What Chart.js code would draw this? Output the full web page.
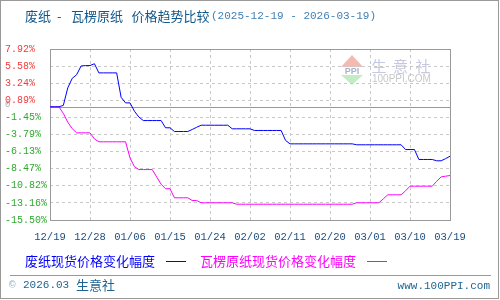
<!DOCTYPE html>
<html>
<head>
<meta charset="utf-8">
<script src="https://cdn.jsdelivr.net/npm/chart.js@4"></script>
<style>
  body { margin: 0; background: #fff; }
  canvas { display: block; }
</style>
</head>
<body>
<canvas id="chart" width="500" height="300"></canvas>
<script>
// daily change (%) since 2025-12-19, one value per day up to 2026-03-19
const wastePaper = [
  0, 0, 0, 0.2, 2.6, 3.9, 4.4, 5.6, 5.65, 5.65,
  5.9, 4.65, 4.65, 4.65, 4.65, 4.65, 1.3, 0.54, 0.54, -0.6,
  -1.4, -1.88, -1.88, -1.88, -1.88, -1.88, -2.87, -2.87, -3.38, -3.38,
  -3.38, -3.38, -3.1, -2.8, -2.52, -2.52, -2.52, -2.52, -2.52, -2.52,
  -2.52, -3.01, -3.01, -3.01, -3.01, -3.01, -3.24, -3.24, -3.24, -3.24,
  -3.24, -3.24, -3.24, -4.6, -5.07, -5.07, -5.07, -5.07, -5.07, -5.07,
  -5.07, -5.07, -5.07, -5.07, -5.07, -5.07, -5.07, -5.07, -5.07, -5.2,
  -5.2, -5.2, -5.2, -5.2, -5.2, -5.2, -5.2, -5.2, -5.2, -5.2,
  -5.85, -5.85, -5.85, -7.21, -7.21, -7.21, -7.21, -7.39, -7.39, -7.1,
  -6.77
];
const corrugated = [
  0, 0, 0, -0.9, -2.1, -3.0, -3.56, -3.56, -3.56, -3.56,
  -4.4, -4.79, -4.79, -4.79, -4.79, -4.79, -4.79, -4.79, -7.0, -8.2,
  -8.59, -8.59, -8.59, -8.59, -9.6, -10.6, -11.22, -11.22, -12.46, -12.46,
  -12.46, -12.46, -12.83, -12.83, -13.14, -13.14, -13.14, -13.14, -13.14, -13.14,
  -13.14, -13.14, -13.34, -13.34, -13.34, -13.34, -13.34, -13.34, -13.34, -13.34,
  -13.34, -13.34, -13.34, -13.34, -13.34, -13.34, -13.34, -13.34, -13.34, -13.34,
  -13.34, -13.34, -13.34, -13.34, -13.34, -13.34, -13.34, -13.34, -13.34, -13.14,
  -13.14, -13.14, -13.14, -13.14, -13.14, -12.6, -12.05, -12.05, -12.05, -12.05,
  -11.5, -10.87, -10.87, -10.87, -10.87, -10.87, -10.87, -10.2, -9.6, -9.5,
  -9.41
];
const xTickLabels = ['12/19', '12/28', '01/06', '01/15', '01/24', '02/02', '02/11', '02/20', '03/01', '03/10', '03/19'];
const yTicks = [7.92, 5.58, 3.24, 0.89, -1.45, -3.79, -6.13, -8.47, -10.82, -13.16, -15.50];
const seriesNames = ['废纸现货价格变化幅度', '瓦楞原纸现货价格变化幅度'];

const CJK = '"Noto Sans CJK SC", sans-serif';
const MONO = '"Liberation Mono", "DejaVu Sans Mono", monospace';

const toPoints = arr => arr.map((v, i) => ({x: i, y: v}));

const decor = {
  id: 'decor',
  beforeDraw(chart) {
    const c = chart.ctx;
    c.save();
    c.fillStyle = '#fff';
    c.fillRect(0, 0, 500, 300);
    c.strokeStyle = '#999';
    c.lineWidth = 1;
    c.strokeRect(0.5, 0.5, 498, 298);

    // watermark
    c.fillStyle = '#f4bab2';
    c.beginPath(); c.moveTo(352, 55); c.lineTo(363, 67); c.lineTo(341, 67); c.closePath(); c.fill();
    c.fillStyle = '#c4ecc4';
    c.beginPath(); c.moveTo(341, 75); c.lineTo(363, 75); c.lineTo(352, 85); c.closePath(); c.fill();
    c.fillStyle = '#aab2cc';
    c.font = 'bold 9px "Liberation Sans", sans-serif';
    c.textAlign = 'center'; c.textBaseline = 'middle';
    c.fillText('PPI', 352, 71.5);
    c.fillStyle = '#c4c8e0';
    c.font = '15px ' + CJK;
    c.textAlign = 'left';
    c.fillText('生', 371.5, 66);
    c.fillText('意', 393, 66);
    c.fillText('社', 415.5, 66);
    c.fillStyle = '#c8c8c8';
    c.font = '10px "Liberation Sans", sans-serif';
    c.fillText('100PPI.COM', 372, 79.5);
    c.restore();
  },
  beforeDatasetsDraw(chart) {
    const c = chart.ctx, a = chart.chartArea;
    const y0 = Math.round(chart.scales.y.getPixelForValue(0)) + 0.5;
    c.save();
    c.strokeStyle = '#999';
    c.lineWidth = 1;
    c.strokeRect(Math.round(a.left) + 0.5, Math.round(a.top) + 0.5,
      Math.round(a.right - a.left), Math.round(a.bottom - a.top));
    c.beginPath(); c.moveTo(a.left, y0); c.lineTo(a.right, y0); c.stroke();
    c.restore();
  },
  afterDraw(chart) {
    const c = chart.ctx;
    c.save();
    c.textBaseline = 'middle';
    c.textAlign = 'left';

    // title
    c.fillStyle = '#11578a';
    c.font = '13px ' + CJK;
    c.fillText('废纸', 25, 16);
    c.fillText('-', 57, 16);
    c.fillText('瓦楞原纸', 71, 16);
    c.fillText('价格趋势比较', 131.5, 16);
    c.fillStyle = '#3f7fb3';
    c.font = '11px ' + MONO;
    c.fillText('(2025-12-19 - 2026-03-19)', 211, 16);

    // little zero mark
    const y0 = chart.scales.y.getPixelForValue(0);
    c.fillStyle = '#aaa';
    c.font = '9px ' + MONO;
    c.fillText('0', 5, y0 - 2);

    // legend
    const colors = ['#0000ff', '#ff00ff'];
    const lx = [[25, 166], [200, 367]];
    c.font = '13px ' + CJK;
    seriesNames.forEach((name, i) => {
      c.fillStyle = colors[i];
      c.fillText(name, lx[i][0], 261);
      c.strokeStyle = colors[i];
      c.lineWidth = 1;
      c.beginPath(); c.moveTo(lx[i][1], 261.5); c.lineTo(lx[i][1] + 20, 261.5); c.stroke();
    });

    // footer
    c.strokeStyle = '#999';
    c.beginPath(); c.moveTo(10, 275.5); c.lineTo(491, 275.5); c.stroke();
    c.fillStyle = '#8fb0cc';
    c.font = '11px ' + MONO;
    c.fillText('©', 9, 285);
    c.fillStyle = '#1f6492';
    c.fillText('2026.03', 23, 285);
    c.font = '13px ' + CJK;
    c.fillText('生意社', 76, 285);
    c.font = '11px ' + MONO;
    c.textAlign = 'right';
    c.fillText('www.100PPI.com', 490, 286);
    c.restore();
  }
};

new Chart(document.getElementById('chart'), {
  type: 'line',
  data: {
    datasets: [
      {label: seriesNames[0], data: toPoints(wastePaper), borderColor: '#0000ff', borderWidth: 1},
      {label: seriesNames[1], data: toPoints(corrugated), borderColor: '#ff00ff', borderWidth: 1}
    ]
  },
  options: {
    responsive: false,
    animation: false,
    devicePixelRatio: 1,
    layout: {padding: {left: 5, right: 50, top: 49, bottom: 0}},
    elements: {point: {radius: 0}, line: {tension: 0}},
    plugins: {legend: {display: false}, title: {display: false}, tooltip: {enabled: false}},
    scales: {
      x: {
        type: 'linear',
        min: 0,
        max: wastePaper.length - 1,
        afterBuildTicks: s => { s.ticks = xTickLabels.map((_, i) => ({value: i * 9})); },
        afterFit: s => { s.height = 80; },
        ticks: {
          callback: (v, i) => xTickLabels[i],
          color: '#1a4d7e',
          font: {family: MONO, size: 10.5},
          padding: 11,
          maxRotation: 0,
          autoSkip: false
        },
        grid: {color: '#c8c8c8', drawTicks: false},
        border: {display: false, dash: [3, 3]}
      },
      y: {
        min: -15.5,
        max: 7.92,
        afterBuildTicks: s => { s.ticks = yTicks.map(v => ({value: v})); },
        afterFit: s => { s.width = 45; },
        ticks: {
          callback: v => v.toFixed(2) + '%',
          color: ctx => ctx.tick.value > 0 ? '#f03c3c' : '#30a830',
          font: {family: MONO, size: 10},
          crossAlign: 'far',
          padding: 4
        },
        grid: {color: '#c8c8c8', drawTicks: false},
        border: {display: false, dash: [3, 3]}
      }
    }
  },
  plugins: [decor]
});
</script>
</body>
</html>
